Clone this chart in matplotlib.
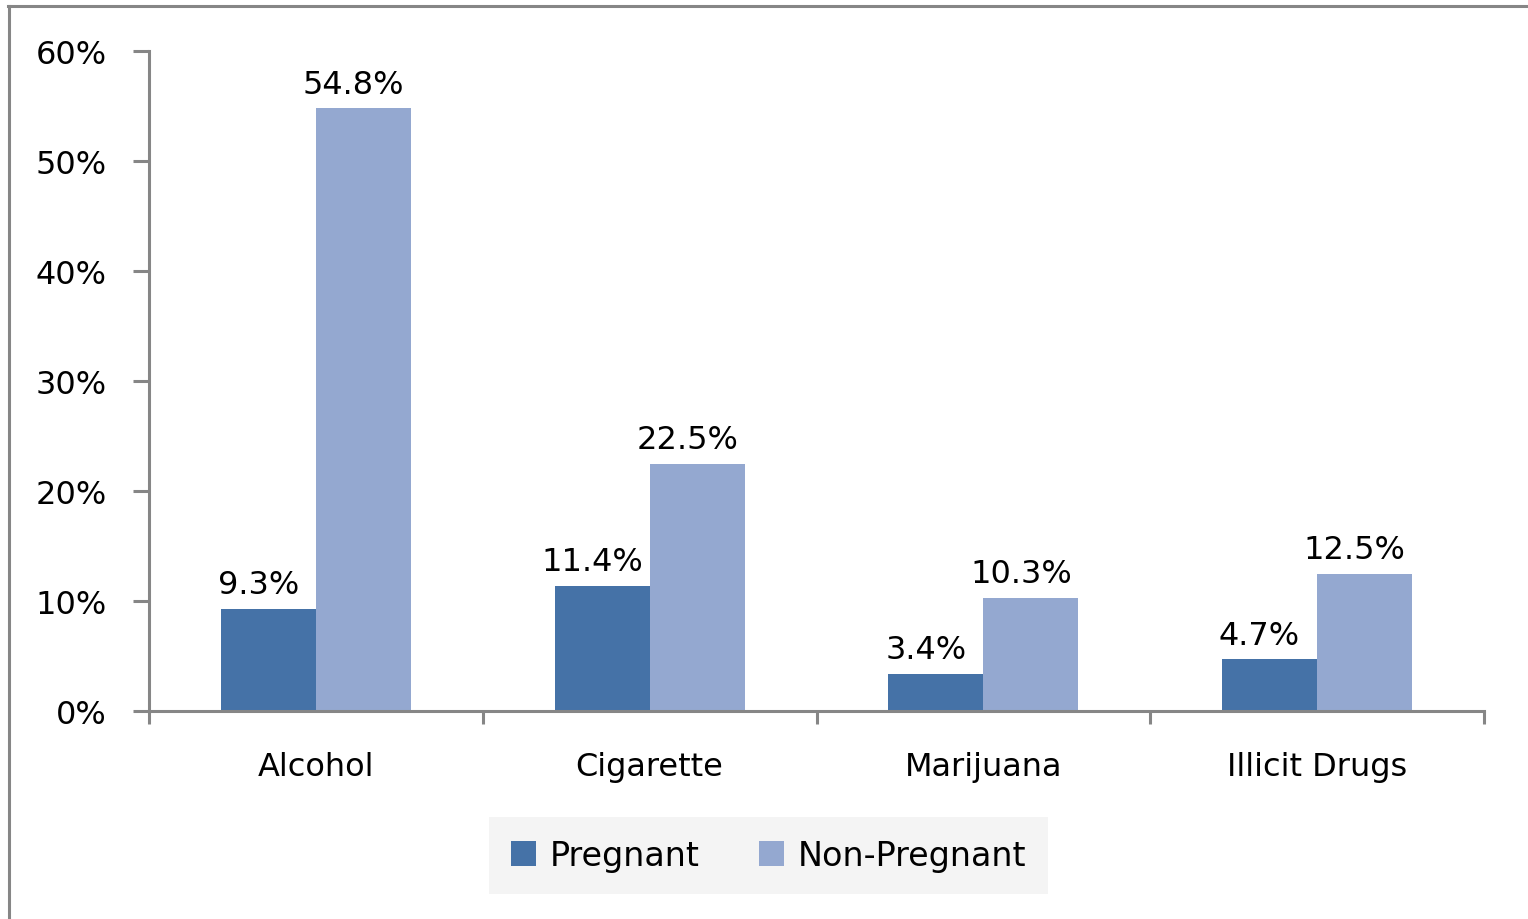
import numpy as np
import matplotlib.pyplot as plt
from matplotlib.lines import Line2D

categories = ['Alcohol', 'Cigarette', 'Marijuana', 'Illicit Drugs']
pregnant = [9.3, 11.4, 3.4, 4.7]
non_pregnant = [54.8, 22.5, 10.3, 12.5]
yticks = [0, 10, 20, 30, 40, 50, 60]

c_preg = '#4572A7'
c_non = '#94A8D0'
gray = '#868686'

plt.rcParams['font.family'] = 'DejaVu Sans'
fs = 23

fig = plt.figure(figsize=(15.28, 9.2), dpi=100)
ax = fig.add_axes([149 / 1528, 1 - 712 / 920, (1484 - 149) / 1528, (712 - 52) / 920])

x = np.arange(len(categories))
w = 0.285
b1 = ax.bar(x - w / 2, pregnant, w, color=c_preg, label='Pregnant')
b2 = ax.bar(x + w / 2, non_pregnant, w, color=c_non, label='Non-Pregnant')

for bars, vals in ((b1, pregnant), (b2, non_pregnant)):
    for b, v in zip(bars, vals):
        ax.annotate(f'{v}%', (b.get_x() + b.get_width() / 2 - 0.03, v),
                    xytext=(0, 6), textcoords='offset points',
                    ha='center', va='bottom', fontsize=fs, color='black')

ax.set_xlim(-0.5, len(categories) - 0.5)
ax.set_ylim(0, 60)
ax.set_yticks(yticks)
ax.set_yticklabels([f'{t}%' for t in yticks])
ax.set_xticks(x)
ax.set_xticklabels(categories)
ax.set_xticks(np.arange(-0.5, len(categories)), minor=True)

for s in ('top', 'right'):
    ax.spines[s].set_visible(False)
for s in ('left', 'bottom'):
    ax.spines[s].set_color(gray)
    ax.spines[s].set_linewidth(2.2)

ax.tick_params(axis='y', length=11.5, width=2.2, color=gray, pad=19, labelsize=fs)
ax.tick_params(axis='x', which='major', length=0, pad=29, labelsize=fs)
ax.tick_params(axis='x', which='minor', length=9, width=2.2, color=gray)

leg = fig.legend(handles=[b1, b2], loc='center', bbox_to_anchor=(0.503, 0.069),
                 ncol=2, frameon=True, fontsize=24, handlelength=0.75, handleheight=0.75,
                 handletextpad=0.4, columnspacing=1.8, borderpad=0.65, borderaxespad=0,
                 fancybox=False)
leg.get_frame().set_facecolor('#f2f2f2')
leg.get_frame().set_edgecolor('none')
leg.get_frame().set_boxstyle('square', pad=0.0)

# outer chart border (only top and left visible)
fig.add_artist(Line2D([8 / 1528, 1], [1 - 7 / 920, 1 - 7 / 920], color=gray, lw=2.2,
                      transform=fig.transFigure))
fig.add_artist(Line2D([9 / 1528, 9 / 1528], [0, 1 - 7 / 920], color=gray, lw=2.2,
                      transform=fig.transFigure))

fig.savefig('out.png', dpi=100)
